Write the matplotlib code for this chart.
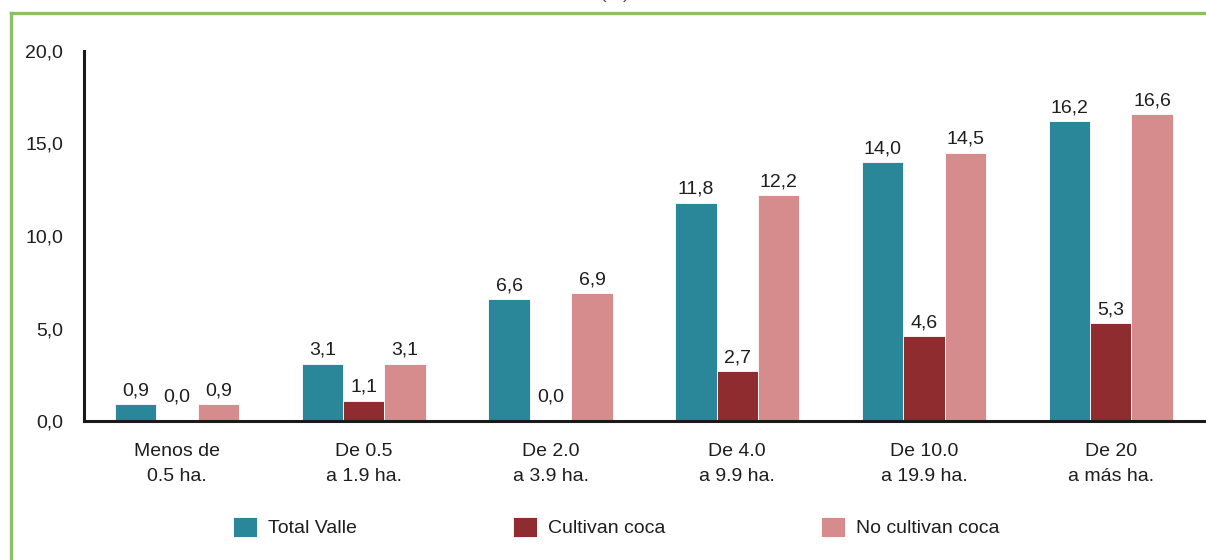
import numpy as np
import matplotlib
matplotlib.use("Agg")
import matplotlib.pyplot as plt
from matplotlib.lines import Line2D
from matplotlib.ticker import FuncFormatter

# --- Data ---
categories = ["Menos de\n0.5 ha.", "De 0.5\na 1.9 ha.", "De 2.0\na 3.9 ha.",
              "De 4.0\na 9.9 ha.", "De 10.0\na 19.9 ha.", "De 20\na más ha."]
total_valle = [0.9, 3.1, 6.6, 11.8, 14.0, 16.2]
cultivan_coca = [0.0, 1.1, 0.0, 2.7, 4.6, 5.3]
no_cultivan_coca = [0.9, 3.1, 6.9, 12.2, 14.5, 16.6]
series_names = ["Total Valle", "Cultivan coca", "No cultivan coca"]
colors = ["#2A8799", "#8E2C30", "#D68C8C"]

plt.rcParams['font.family'] = ['Liberation Sans', 'DejaVu Sans']
FS = 14
TXT = "#1e1e1e"

fig = plt.figure(figsize=(12.06, 5.6), dpi=100, facecolor='white')
ax = fig.add_axes([84/1206, 1-421/560, 1-84/1206, 370/560])

x = np.arange(len(categories))
w = 0.222
for i, (vals, name, c) in enumerate(zip([total_valle, cultivan_coca, no_cultivan_coca], series_names, colors)):
    pos = x + (i - 1) * w
    ax.bar(pos, vals, width=w, color=c, label=name, edgecolor='white', linewidth=0.6, zorder=2)
    for px_, v in zip(pos, vals):
        off = 3.5 if v > 0 else 11
        ax.annotate(f"{v:.1f}".replace(".", ","), (px_, v), xytext=(0, off),
                    textcoords='offset points', ha='center', va='bottom',
                    fontsize=FS, color=TXT)

ax.set_xlim(-0.498, 5.51)
ax.set_ylim(0, 20)
ax.set_yticks([0, 5, 10, 15, 20])
ax.yaxis.set_major_formatter(FuncFormatter(lambda v, p: f"{v:.1f}".replace(".", ",")))
ax.set_xticks(x)
ax.set_xticklabels(categories, linespacing=1.6)
ax.tick_params(axis='both', length=0, labelsize=FS, colors=TXT)
ax.tick_params(axis='y', pad=15)
ax.tick_params(axis='x', pad=16)
for s in ['top', 'right']:
    ax.spines[s].set_visible(False)
for s in ['left', 'bottom']:
    ax.spines[s].set_linewidth(2.2)
    ax.spines[s].set_color('#1a1a1a')

# legend
fig.legend(loc='center', bbox_to_anchor=(0.511, 1-527/560), ncol=3, frameon=False,
           fontsize=FS, handlelength=1.24, handleheight=1.24, handletextpad=0.57,
           columnspacing=8.0, labelcolor=TXT)

# green frame lines
green = "#8DBE68"
fig.add_artist(Line2D([11/1206, 1], [1-13/560, 1-13/560], color=green, lw=2.4, transform=fig.transFigure))
fig.add_artist(Line2D([11/1206, 11/1206], [0, 1-13/560], color=green, lw=2.4, transform=fig.transFigure))

# header remnant cut off by the top edge
fig.text(0.51, 1.0 + 1.5/560, "(%)", ha='center', va='baseline', fontsize=FS, color='#555555')

fig.savefig("out.png", dpi=100, facecolor='white')
